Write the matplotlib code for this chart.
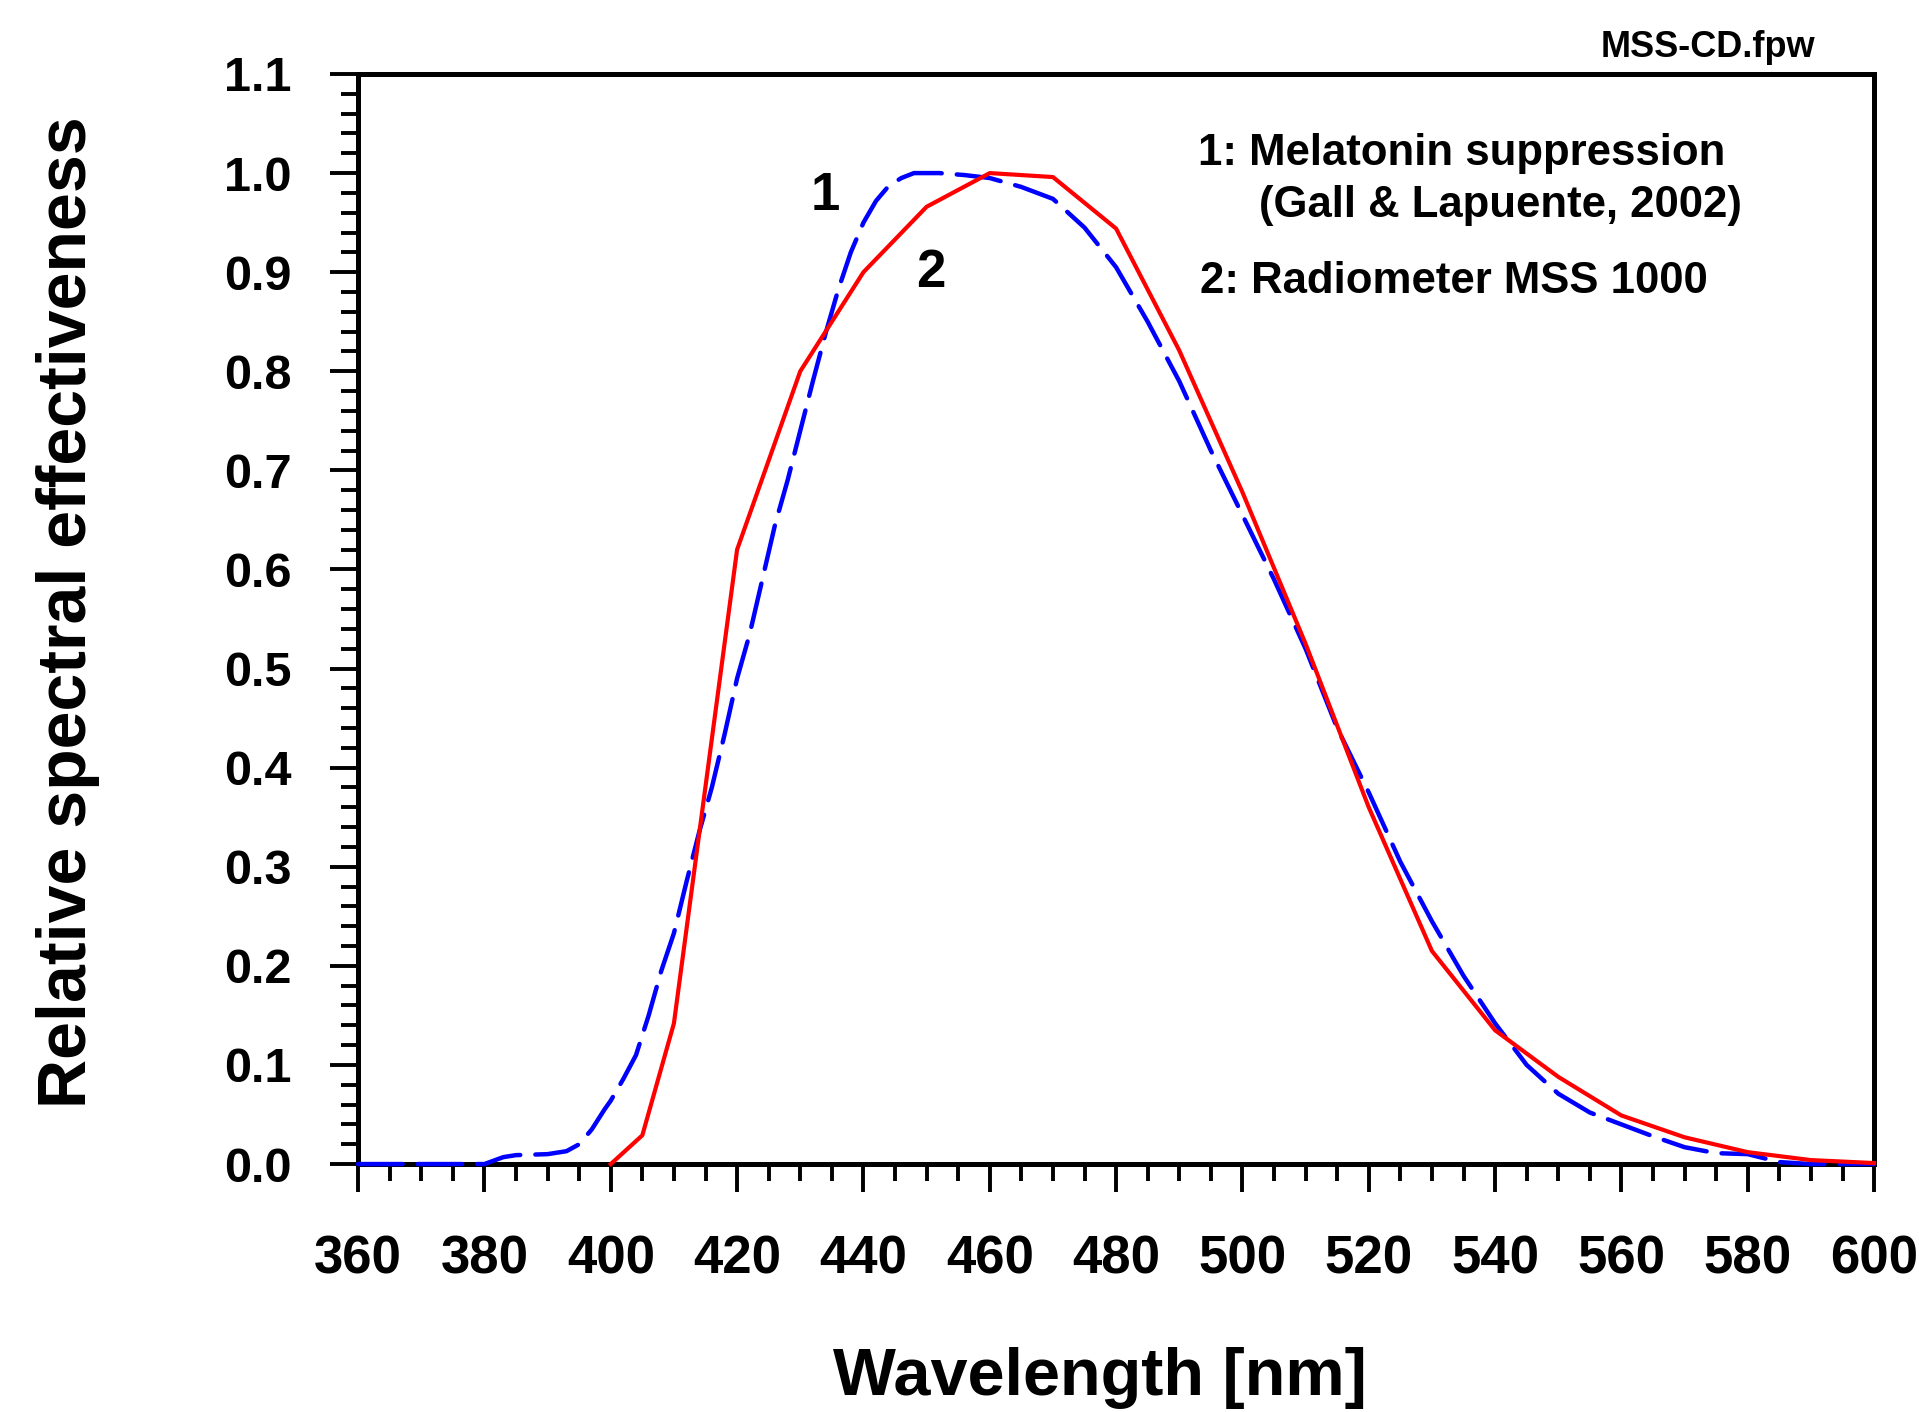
import numpy as np
import matplotlib
matplotlib.use('Agg')
import matplotlib.pyplot as plt
from matplotlib.ticker import MultipleLocator

plt.rcParams['font.family'] = ['Liberation Sans', 'DejaVu Sans']
plt.rcParams['font.weight'] = 'bold'

# 1: melatonin suppression (Gall & Lapuente, 2002)
wl_mel = [360, 370, 380, 383, 385, 390, 393, 395, 397, 399, 400, 402, 404, 406, 408,
          410, 412, 414, 416, 418, 420, 422, 424, 426, 428, 430, 432, 434, 436, 438,
          440, 442, 444, 446, 448, 452, 456, 460, 465, 470, 475, 480, 485, 490, 495,
          500, 505, 510, 515, 520, 525, 530, 535, 540, 545, 550, 555, 560, 565, 570,
          575, 580, 585, 590, 600]
eff_mel = [0, 0, 0, 0.007, 0.009, 0.010, 0.013, 0.020, 0.035, 0.055, 0.064, 0.086, 0.110, 0.150, 0.195,
           0.233, 0.285, 0.335, 0.380, 0.433, 0.490, 0.535, 0.590, 0.645, 0.690, 0.740, 0.790, 0.838, 0.882, 0.920,
           0.950, 0.972, 0.987, 0.995, 1.0, 1.0, 0.998, 0.995, 0.986, 0.974, 0.945, 0.905, 0.850, 0.790, 0.720,
           0.655, 0.590, 0.520, 0.440, 0.375, 0.305, 0.245, 0.190, 0.142, 0.100, 0.071, 0.052, 0.040, 0.028, 0.017,
           0.011, 0.010, 0.002, 0, 0]

# 2: radiometer MSS 1000
wl_mss = [400, 405, 410, 420, 430, 440, 450, 460, 470, 480, 490, 500, 510, 520, 530,
          540, 550, 560, 570, 580, 590, 600]
eff_mss = [0, 0.029, 0.142, 0.620, 0.800, 0.900, 0.966, 1.0, 0.996, 0.944, 0.821, 0.678, 0.525, 0.360, 0.215,
           0.135, 0.088, 0.049, 0.027, 0.012, 0.004, 0.001]

legend_lines = ['1: Melatonin suppression', '(Gall & Lapuente, 2002)', '2: Radiometer MSS 1000']

fig = plt.figure(figsize=(19.19, 14.12), dpi=100)
ax = fig.add_axes([0.1866, 0.1756, 0.7900, 0.7720])

ax.plot(wl_mel, eff_mel, color='#0000ff', lw=3.2, dashes=(10, 3.4),
        dash_capstyle='round', clip_on=False, zorder=5)
ax.plot(wl_mss, eff_mss, color='#ff0000', lw=3.0, clip_on=False, zorder=6)

ax.set_xlim(360, 600)
ax.set_ylim(0, 1.1)
ax.xaxis.set_major_locator(MultipleLocator(20))
ax.xaxis.set_minor_locator(MultipleLocator(5))
ax.yaxis.set_major_locator(MultipleLocator(0.1))
ax.yaxis.set_minor_locator(MultipleLocator(0.02))
ax.yaxis.set_major_formatter(plt.FuncFormatter(lambda v, p: '%.1f' % v))

for s in ax.spines.values():
    s.set_linewidth(3.6)
ax.tick_params(which='both', direction='out', top=False, right=False, width=2.8, color='black')
ax.tick_params(which='major', length=20)
ax.tick_params(which='minor', length=12)
ax.tick_params(axis='y', which='major', labelsize=35, pad=28)
ax.tick_params(axis='x', which='major', labelsize=38, pad=31)
for lab in ax.get_xticklabels() + ax.get_yticklabels():
    lab.set_fontweight('bold')

# curve numbers
ax.text(434.0, 0.963, '1', fontsize=38, fontweight='bold', ha='center', va='baseline')
ax.text(450.7, 0.885, '2', fontsize=38, fontweight='bold', ha='center', va='baseline')

fig.text(0.6243, 0.8831, legend_lines[0], fontsize=31.5, fontweight='bold', va='baseline')
fig.text(0.6561, 0.8463, legend_lines[1], fontsize=31.5, fontweight='bold', va='baseline')
fig.text(0.6253, 0.7925, legend_lines[2], fontsize=31.5, fontweight='bold', va='baseline')
fig.text(0.9458, 0.9596, 'MSS-CD.fpw', fontsize=26, fontweight='bold', ha='right', va='baseline')

fig.text(0.5732, 0.0120, 'Wavelength [nm]', fontsize=48, fontweight='bold', ha='center', va='baseline')
fig.text(0.0354, 0.5666, 'Relative spectral effectiveness', fontsize=49, fontweight='bold',
         rotation=90, ha='center', va='center')

fig.savefig('out.png', dpi=100)
